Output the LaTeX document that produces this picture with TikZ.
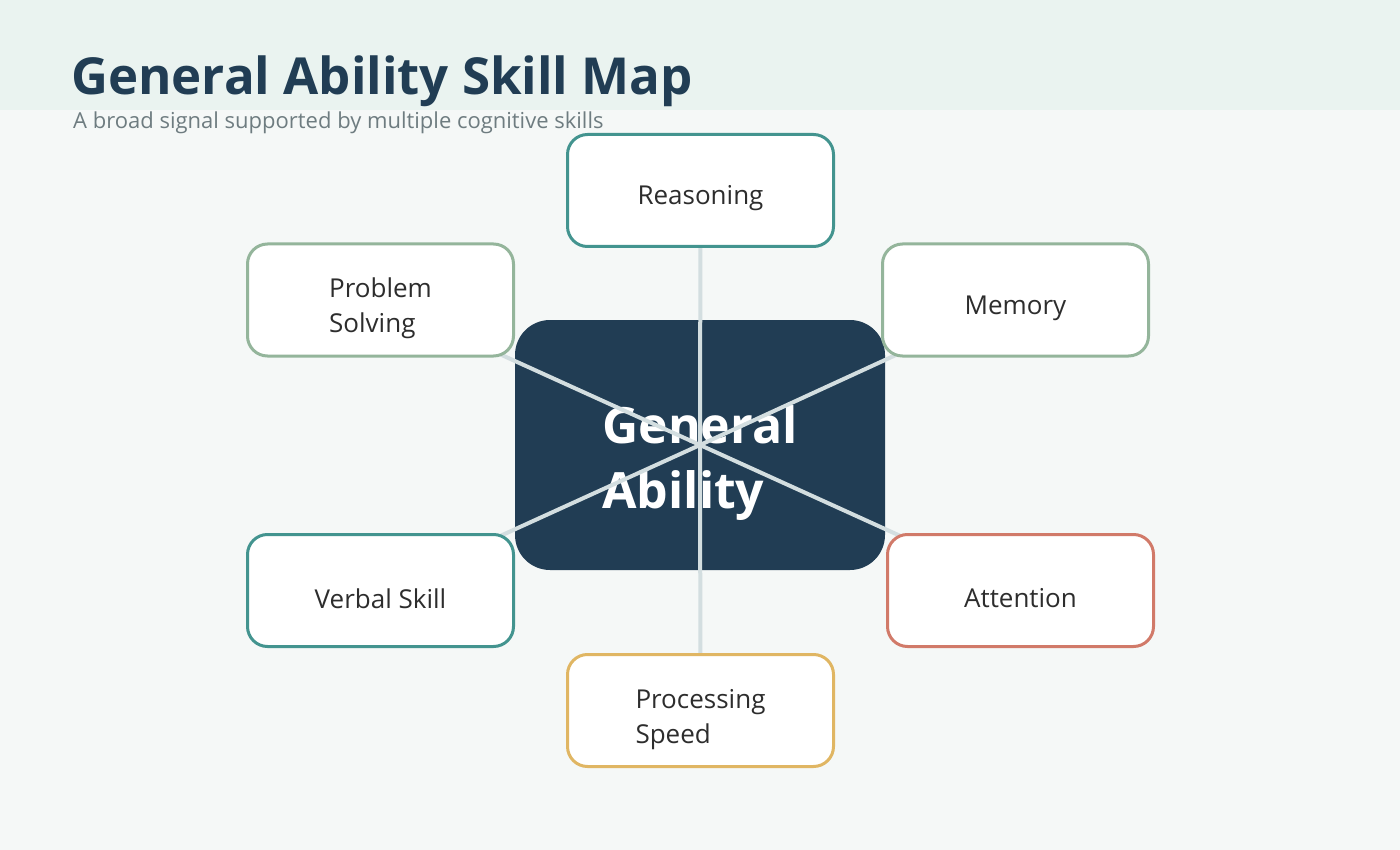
\documentclass[tikz,border=0pt]{standalone}
\usepackage{fontspec}
\setmainfont{Open Sans}
\pgfdeclarelayer{bg}
\pgfdeclarelayer{mid}
\pgfsetlayers{bg,mid,main}
\definecolor{pagebg}{HTML}{F5F8F7}
\definecolor{headbg}{HTML}{EAF3F0}
\definecolor{navy}{HTML}{213D54}
\definecolor{subgray}{HTML}{6E7C80}
\definecolor{linegray}{HTML}{D3DEE0}
\definecolor{tealc}{HTML}{43948F}
\definecolor{sagec}{HTML}{94B59B}
\definecolor{redc}{HTML}{D17A69}
\definecolor{goldc}{HTML}{E0B663}
\definecolor{bodytext}{HTML}{2D2D2D}
\newcommand{\pushdown}[2]{\raisebox{0pt}[\dimexpr\height+#1\relax][\depth]{#2}}
\tikzset{
  skill/.style={draw=#1, line width=3pt, fill=white, rounded corners=20pt,
    minimum width=266pt, minimum height=112pt, inner sep=0pt,
    text=bodytext, font=\fontsize{26}{35}\selectfont},
  core/.style={fill=navy, rounded corners=35pt, minimum width=370pt,
    minimum height=250pt, inner sep=0pt, text=white,
    font=\fontsize{50}{63}\selectfont\bfseries},
  link/.style={draw=linegray, line width=4pt}
}
\begin{document}
\begin{tikzpicture}[x=1pt,y=-1pt]
\begin{pgfonlayer}{bg}
\fill[pagebg] (0,0) rectangle (1400,850);
\fill[headbg] (0,0) rectangle (1400,110);
\useasboundingbox (0,0) rectangle (1400,850);
\node[anchor=base west, text=navy, font=\fontsize{51}{60}\selectfont\bfseries, inner sep=0pt] (title) at (71,95) {General Ability Skill Map};
\node[anchor=base west, text=subgray, font=\fontsize{22}{26}\selectfont, inner sep=0pt] (sub) at (73,129) {A broad signal supported by multiple cognitive skills};
\node[core] (c) at (700,445) {\pushdown{36pt}{\begin{tabular}{@{}l@{}}General\\[2pt]Ability\end{tabular}}};
\end{pgfonlayer}
\node[skill=tealc] (rea) at (700.5,190.5) {\pushdown{16pt}{Reasoning}};
\node[skill=sagec] (ps) at (380.5,300) {\pushdown{17pt}{\begin{tabular}{@{}l@{}}Problem\\Solving\end{tabular}}};
\node[skill=sagec] (mem) at (1015.5,300) {\pushdown{17pt}{Memory}};
\node[skill=tealc] (vs) at (380.5,590.5) {\pushdown{16pt}{Verbal Skill}};
\node[skill=redc] (att) at (1020.5,590.5) {\pushdown{16pt}{Attention}};
\node[skill=goldc] (pr) at (700.5,710.5) {\pushdown{16pt}{\begin{tabular}{@{}l@{}}Processing\\Speed\end{tabular}}};
\begin{pgfonlayer}{mid}
\foreach \n in {rea,ps,mem,vs,att,pr} \draw[link] (c.center) -- (\n.center);
\end{pgfonlayer}
\end{tikzpicture}
\end{document}
